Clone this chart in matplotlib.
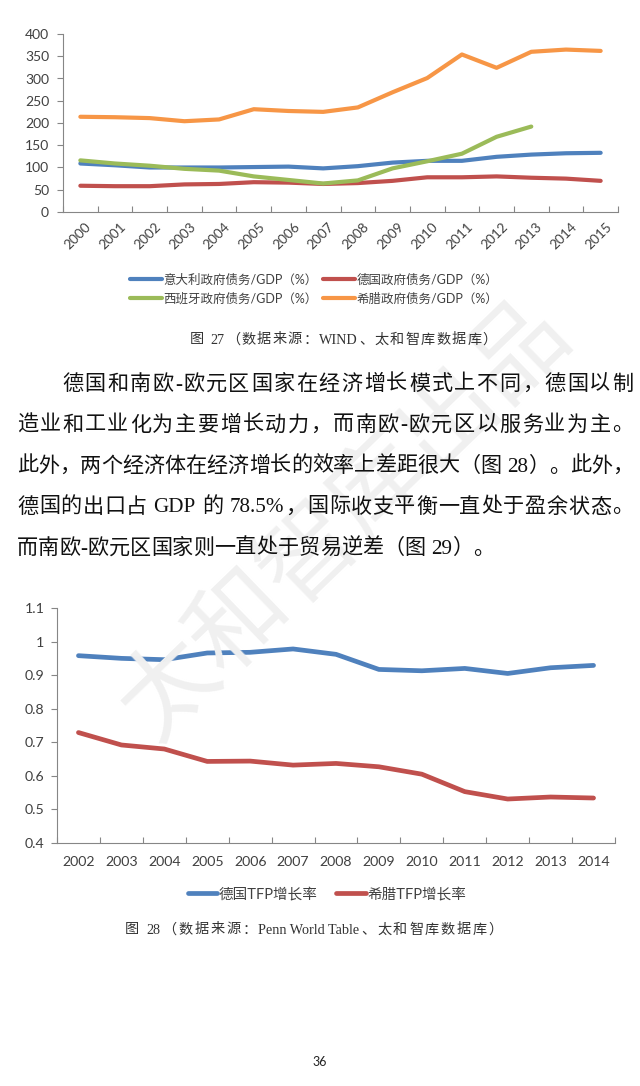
import re
import numpy as np
import matplotlib
matplotlib.use('Agg')
import matplotlib.pyplot as plt
from matplotlib.font_manager import FontProperties
from matplotlib.transforms import ScaledTranslation

# ---------------- data ----------------
years_top = [str(y) for y in range(2000, 2016)]
italy_debt = [109, 105, 100, 100, 100, 101, 102, 98, 103, 111, 115, 115, 124, 129, 132, 133]
germany_debt = [59, 58, 58, 62, 63, 67, 66, 63, 65, 70, 78, 78, 80, 77, 75, 70]
spain_debt = [116, 109, 104, 97, 93, 80, 72, 64, 71, 98, 114, 131, 169, 192]
greece_debt = [214, 213, 211, 204, 208, 231, 227, 225, 235, 269, 301, 354, 324, 360, 365, 362]
labels_top = ['意大利政府债务/GDP（%）', '德国政府债务/GDP（%）',
              '西班牙政府债务/GDP（%）', '希腊政府债务/GDP（%）']

years_bot = [str(y) for y in range(2002, 2015)]
germany_tfp = [0.958, 0.950, 0.946, 0.966, 0.968, 0.978, 0.962, 0.917, 0.913, 0.920, 0.905, 0.922, 0.929]
greece_tfp = [0.729, 0.692, 0.680, 0.643, 0.644, 0.632, 0.637, 0.627, 0.605, 0.553, 0.531, 0.537, 0.534]
labels_bot = ['德国TFP增长率', '希腊TFP增长率']

caption1 = '图 27（数据来源：WIND、太和智库数据库）'
caption2 = '图 28（数据来源：Penn World Table、太和智库数据库）'
paragraph = [
    '德国和南欧-欧元区国家在经济增长模式上不同，德国以制',
    '造业和工业化为主要增长动力，而南欧-欧元区以服务业为主。',
    '此外，两个经济体在经济增长的效率上差距很大（图 28）。此外，',
    '德国的出口占 GDP 的 78.5%，国际收支平衡一直处于盈余状态。',
    '而南欧-欧元区国家则一直处于贸易逆差（图 29）。',
]
page_no = '36'
watermark = '太和智库出品'

# ---------------- style ----------------
C_BLUE = '#4F81BD'
C_RED = '#C0504D'
C_GREEN = '#9BBB59'
C_ORANGE = '#F79646'
AX_COL = '#868686'
TXT = '#404040'
SANS = ['Lato', 'Noto Sans CJK SC', 'DejaVu Sans']
SERIF = ['Liberation Serif', 'Noto Sans CJK SC', 'DejaVu Sans']

W, H = 640, 1086
fig = plt.figure(figsize=(W / 100, H / 100), dpi=100)
fig.patch.set_facecolor('white')

def fx(x):
    return x / W

def fy(y):
    return 1 - y / H

# faint watermark
fig.text(fx(345), fy(520), watermark, rotation=44, fontsize=70, color='#f0f0f0',
         ha='center', va='center', family=['Noto Sans CJK SC'], zorder=0)

def style_axes(ax):
    ax.patch.set_alpha(0)
    for s in ['top', 'right']:
        ax.spines[s].set_visible(False)
    for s in ['left', 'bottom']:
        ax.spines[s].set_color(AX_COL)
        ax.spines[s].set_linewidth(0.8)
    ax.tick_params(axis='y', which='major', length=4, width=0.8, color=AX_COL,
                   direction='out', labelcolor=TXT, labelsize=9.5)
    ax.tick_params(axis='x', which='major', length=0, labelcolor=TXT, labelsize=9.5)
    ax.tick_params(axis='x', which='minor', length=4, width=0.8, color=AX_COL, direction='in')
    for lab in ax.get_yticklabels():
        lab.set_family(SANS)

# ---------------- top chart ----------------
ax1 = fig.add_axes([fx(63), fy(212), 555 / W, 178 / H])
x_top = np.arange(len(years_top))
l_it, = ax1.plot(x_top, italy_debt, color=C_BLUE, lw=3.0, solid_capstyle='round')
l_de, = ax1.plot(x_top, germany_debt, color=C_RED, lw=3.0, solid_capstyle='round')
l_es, = ax1.plot(np.arange(len(spain_debt)), spain_debt, color=C_GREEN, lw=3.0, solid_capstyle='round')
l_gr, = ax1.plot(x_top, greece_debt, color=C_ORANGE, lw=3.0, solid_capstyle='round')
ax1.set_xlim(-0.5, len(years_top) - 0.5)
ax1.set_ylim(0, 400)
ax1.set_yticks(np.arange(0, 401, 50))
ax1.set_xticks(x_top)
ax1.set_xticklabels(years_top)
ax1.set_xticks(np.arange(-0.5, len(years_top)), minor=True)
style_axes(ax1)
ax1.tick_params(axis='y', pad=6, labelsize=10)
ax1.tick_params(axis='x', which='major', pad=9, labelsize=9.8)
for lab in ax1.get_xticklabels():
    lab.set_family(SANS)
    lab.set_rotation(45)
    lab.set_ha('right')
    lab.set_va('center')
    lab.set_rotation_mode('anchor')
    lab.set_transform(lab.get_transform() + ScaledTranslation(9 / 100, 0, fig.dpi_scale_trans))

fig.legend(handles=[l_it, l_es, l_de, l_gr],
           labels=[labels_top[0], labels_top[2], labels_top[1], labels_top[3]],
           ncol=2, loc='center', bbox_to_anchor=(fx(314), fy(289)), frameon=False,
           prop=FontProperties(family=SANS, size=9.0), handlelength=2.6,
           handletextpad=0.12, columnspacing=0.4, labelspacing=0.55, labelcolor=TXT)

# ---------------- bottom chart ----------------
ax2 = fig.add_axes([fx(57), fy(843), 558 / W, 235 / H])
x_bot = np.arange(len(years_bot))
b_de, = ax2.plot(x_bot, germany_tfp, color=C_BLUE, lw=3.4, solid_capstyle='round')
b_gr, = ax2.plot(x_bot, greece_tfp, color=C_RED, lw=3.4, solid_capstyle='round')
ax2.set_xlim(-0.5, len(years_bot) - 0.5)
ax2.set_ylim(0.4, 1.1)
ax2.set_yticks([0.4, 0.5, 0.6, 0.7, 0.8, 0.9, 1.0, 1.1])
ax2.set_yticklabels(['0.4', '0.5', '0.6', '0.7', '0.8', '0.9', '1', '1.1'])
ax2.set_xticks(x_bot)
ax2.set_xticklabels(years_bot)
ax2.set_xticks(np.arange(-0.5, len(years_bot)), minor=True)
style_axes(ax2)
ax2.tick_params(axis='y', pad=5, labelsize=10.2)
ax2.tick_params(axis='x', which='major', pad=9, labelsize=10.2)
for lab in ax2.get_xticklabels():
    lab.set_family(SANS)

fig.legend(handles=[b_de, b_gr], labels=labels_bot, ncol=2, loc='center',
           bbox_to_anchor=(fx(327), fy(894)), frameon=False,
           prop=FontProperties(family=SANS, size=10.5), handlelength=2.0,
           handletextpad=0.12, columnspacing=1.3, labelcolor=TXT)

# ---------------- body text ----------------
renderer = fig.canvas.get_renderer()

def tokenize(s):
    return re.findall(r'[A-Za-z0-9.%]+(?: [A-Za-z]+)*| |.', s)

def place_line(s, x0, x1, y, fs, family, color, justify=True):
    toks = tokenize(s)
    items = []
    for t in toks:
        if t == ' ':
            items.append((None, fs * 100 / 72 * 0.25))
            continue
        tx = fig.text(0, 0, t, fontsize=fs, family=family, color=color,
                      ha='left', va='center', zorder=3)
        w = tx.get_window_extent(renderer=renderer).width
        items.append((tx, w))
    total = sum(w for _, w in items)
    gap = (x1 - x0 - total) / (len(items) - 1) if (justify and len(items) > 1) else 0.0
    x = x0
    for tx, w in items:
        if tx is not None:
            tx.set_position((fx(x), fy(y)))
        x += w + gap

BODY_FS = 15.2
line_y = [385, 426, 467, 508, 549]
for i, s in enumerate(paragraph):
    x0 = 62 if i == 0 else 17
    place_line(s, x0, 633, line_y[i], BODY_FS, SERIF, '#111111', justify=(i < 4))

place_line(caption1, 190, 497, 340, 10.2, SERIF, '#333333', justify=True)
place_line(caption2, 125, 503, 930, 10.2, SERIF, '#333333', justify=True)

fig.text(fx(320), fy(1062), page_no, fontsize=9, family=SANS, color='#222222',
         ha='center', va='center')

fig.savefig('out.png', dpi=100)
